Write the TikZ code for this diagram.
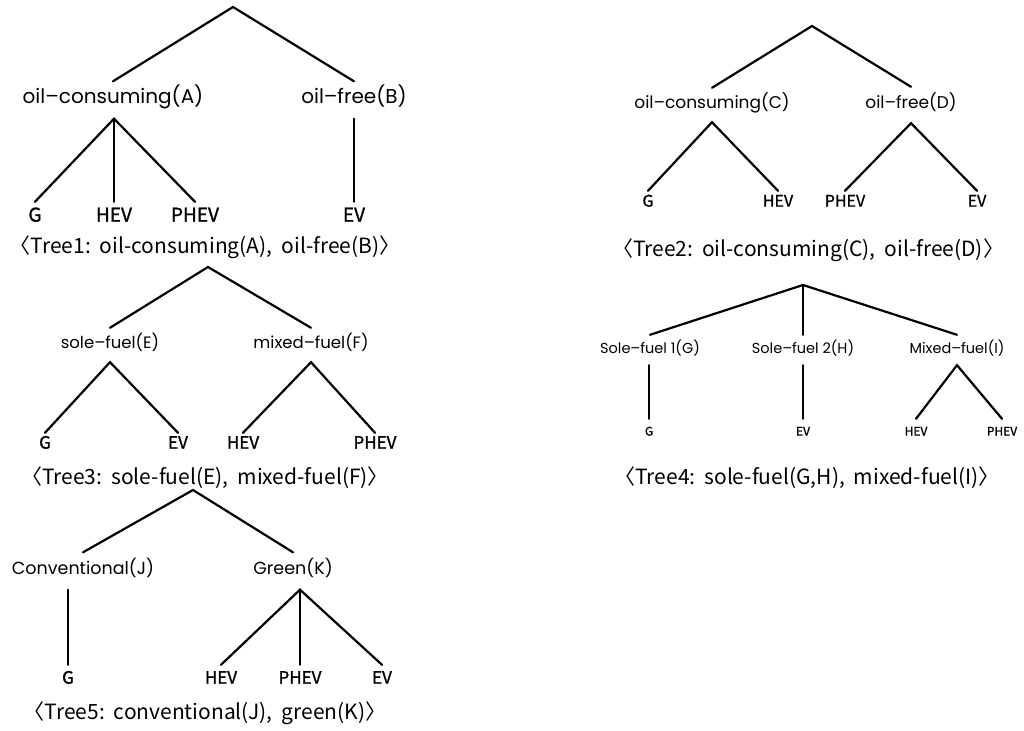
\documentclass[tikz,border=0pt]{standalone}
\usepackage{fontspec}
\newfontfamily\lblfont{Poppins}
\newfontfamily\leaffont{Noto Sans CJK KR}[FakeBold=1.2]
\newfontfamily\capfont{Noto Sans CJK KR}
\newcommand{\capgap}{\hspace{9pt}}
\tikzset{
  lab/.style={font=\lblfont\fontsize{#1}{#1}\selectfont, inner sep=0pt, text height=0.7em, text depth=0pt},
  leaf/.style={font=\leaffont\fontsize{#1}{#1}\selectfont, inner sep=0pt, text height=0.73em, text depth=0pt},
  capt/.style={font=\capfont\fontsize{#1}{#1}\selectfont, inner sep=0pt},
  br/.style={line width=2.2pt, line cap=round}
}
\begin{document}
\begin{tikzpicture}[x=1pt,y=-1pt]
\useasboundingbox (0,0) rectangle (1024,730);
% ---------- Tree 1
\coordinate (r1) at (233,7);
\node[lab=20, minimum height=37pt] (A) at (113,100) {oil–consuming(A)};
\node[lab=20, minimum height=37pt] (B) at (354,100) {oil–free(B)};
\node[leaf=19, minimum height=32pt] (g1) at (35,218) {G};
\node[leaf=19, minimum height=32pt] (h1) at (114,218) {HEV};
\node[leaf=19, minimum height=32pt] (p1) at (195,218) {PHEV};
\node[leaf=19, minimum height=32pt] (e1) at (354,218) {EV};
\draw[br] (A.north) -- (r1) -- (B.north);
\draw[br] (g1.north) -- (A.south -| h1.north) -- (p1.north);
\draw[br] (A.south -| h1.north) -- (h1.north);
\draw[br] (B.south -| e1.north) -- (e1.north);
\node[capt=21] (c1) at (205,247) {〈Tree1:\capgap oil-consuming(A),\capgap oil-free(B)〉};
% ---------- Tree 2
\coordinate (r2) at (812,26);
\node[lab=17, minimum height=34pt] (C) at (712,105) {oil–consuming(C)};
\node[lab=17, minimum height=36pt] (D) at (911,105) {oil–free(D)};
\node[leaf=16, minimum height=24pt] (g2) at (648,203) {G};
\node[leaf=16, minimum height=24pt] (h2) at (778,203) {HEV};
\node[leaf=16, minimum height=24pt] (p2) at (845,203) {PHEV};
\node[leaf=16, minimum height=24pt] (e2) at (977,203) {EV};
\draw[br] (C.north) -- (r2) -- (D.north);
\draw[br] (g2.north) -- (C.south) -- (h2.north);
\draw[br] (p2.north) -- (D.south) -- (e2.north);
\node[capt=21] (c2) at (808,250) {〈Tree2:\capgap oil-consuming(C),\capgap oil-free(D)〉};
% ---------- Tree 3
\coordinate (r3) at (208,267);
\node[lab=16.5, minimum height=34pt] (E) at (110,345) {sole–fuel(E)};
\node[lab=16.5, minimum height=34pt] (F) at (311,345) {mixed–fuel(F)};
\node[leaf=17, minimum height=24pt] (g3) at (45,445) {G};
\node[leaf=17, minimum height=24pt] (e3) at (178,445) {EV};
\node[leaf=17, minimum height=24pt] (h3) at (243,445) {HEV};
\node[leaf=17, minimum height=24pt] (p3) at (375,445) {PHEV};
\draw[br] (E.north) -- (r3) -- (F.north);
\draw[br] (g3.north) -- (E.south) -- (e3.north);
\draw[br] (h3.north) -- (F.south) -- (p3.north);
\node[capt=21] (c3) at (205,478) {〈Tree3:\capgap sole-fuel(E),\capgap mixed-fuel(F)〉};
% ---------- Tree 4
\coordinate (r4) at (803,285);
\node[lab=14.5, minimum height=30pt] (G4) at (650,350) {Sole–fuel 1(G)};
\node[lab=14.5, minimum height=30pt] (H4) at (803,350) {Sole–fuel 2(H)};
\node[lab=14.5, minimum height=30pt] (I4) at (957,350) {Mixed–fuel(I)};
\node[leaf=12, minimum height=26pt] (g4) at (649,432) {G};
\node[leaf=12, minimum height=26pt] (e4) at (803,432) {EV};
\node[leaf=12, minimum height=26pt] (h4) at (916,432) {HEV};
\node[leaf=12, minimum height=26pt] (p4) at (1002,432) {PHEV};
\draw[br] (G4.north) -- (r4) -- (I4.north);
\draw[br] (r4) -- (H4.north);
\draw[br] (G4.south -| g4.north) -- (g4.north);
\draw[br] (H4.south) -- (e4.north);
\draw[br] (h4.north) -- (I4.south) -- (p4.north);
\node[capt=21] (c4) at (807,478) {〈Tree4:\capgap sole-fuel(G,H),\capgap mixed-fuel(I)〉};
% ---------- Tree 5
\coordinate (r5) at (193,490);
\node[lab=17.5, minimum height=37pt] (J) at (83,571) {Conventional(J)};
\node[lab=17.5, minimum height=37pt] (K) at (293,571) {Green(K)};
\node[leaf=17, minimum height=30pt] (g5) at (68,680) {G};
\node[leaf=17, minimum height=30pt] (h5) at (221,680) {HEV};
\node[leaf=17, minimum height=30pt] (p5) at (300,680) {PHEV};
\node[leaf=17, minimum height=30pt] (e5) at (382,680) {EV};
\coordinate (j5) at (J.south -| g5.north);
\coordinate (k5) at (K.south -| p5.north);
\draw[br] (J.north) -- (r5) -- (K.north);
\draw[br] (j5) -- (g5.north);
\draw[br] (h5.north) -- (k5) -- (e5.north);
\draw[br] (k5) -- (p5.north);
\node[capt=21] (c5) at (205,713) {〈Tree5:\capgap conventional(J),\capgap green(K)〉};
\end{tikzpicture}
\end{document}
